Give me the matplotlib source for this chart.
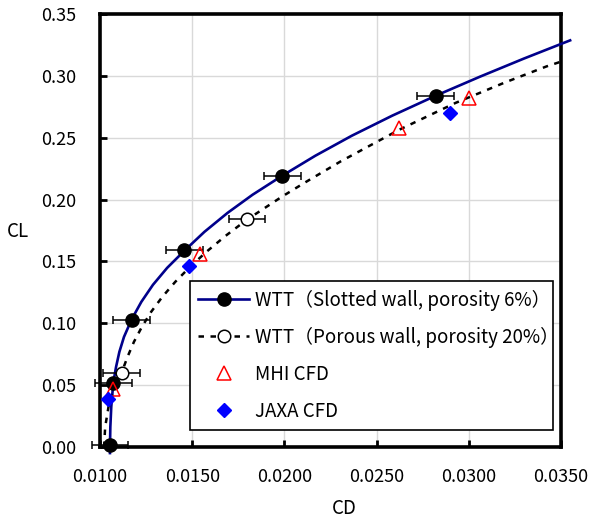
import numpy as np
import matplotlib.pyplot as plt
from matplotlib.lines import Line2D

plt.rcParams['font.family'] = ['Noto Sans CJK JP', 'DejaVu Sans']

# WTT slotted wall (porosity 6%)
cd_slot = [0.01054, 0.01072, 0.01172, 0.01457, 0.01988, 0.02821]
cl_slot = [0.002, 0.052, 0.103, 0.159, 0.219, 0.284]

# WTT porous wall (porosity 20%)
cd_por = [0.01118, 0.01797]
cl_por = [0.060, 0.184]

# CFD results
cd_mhi = [0.01072, 0.0154, 0.02621, 0.03002]
cl_mhi = [0.047, 0.156, 0.258, 0.282]
cd_jaxa = [0.01045, 0.0148, 0.02898]
cl_jaxa = [0.039, 0.146, 0.270]

cd_err = 0.001

# trend lines
cd_slot_fit = [0.01054, 0.01054, 0.01056, 0.01061, 0.01072, 0.01087, 0.01105, 0.01130,
               0.01172, 0.01224, 0.01287, 0.01364, 0.01457, 0.01566, 0.01692, 0.01827,
               0.01988, 0.02167, 0.02365, 0.02584, 0.02821, 0.03061, 0.03297, 0.03549]
cl_slot_fit = [-0.0049, 0.0, 0.0162, 0.0324, 0.052, 0.0647, 0.0769, 0.0890,
               0.1033, 0.1173, 0.1311, 0.1448, 0.1586, 0.1739, 0.1893, 0.2039,
               0.2193, 0.2354, 0.2516, 0.2678, 0.2840, 0.2994, 0.3139, 0.3287]

cd_por_fit = [0.01022, 0.01028, 0.01046, 0.01079, 0.01118, 0.01149, 0.01184, 0.01227,
              0.01277, 0.01338, 0.01408, 0.01488, 0.01577, 0.01681, 0.01796, 0.01988,
              0.02109, 0.02304, 0.02623, 0.02927, 0.03196, 0.03422, 0.03516]
cl_por_fit = [0.0, 0.0162, 0.0324, 0.0485, 0.0604, 0.0728, 0.0850, 0.0971,
              0.1092, 0.1214, 0.1335, 0.1456, 0.1578, 0.1707, 0.1837, 0.2025,
              0.2136, 0.2308, 0.2565, 0.2781, 0.2947, 0.3077, 0.3123]

x_ticks = [0.010, 0.015, 0.020, 0.025, 0.030, 0.035]
y_ticks = [0.00, 0.05, 0.10, 0.15, 0.20, 0.25, 0.30, 0.35]

fig = plt.figure(figsize=(5.9, 5.19), dpi=100)
ax = fig.add_axes([0.1695, 0.1387, 0.7815, 0.8343])

navy = '#00008B'
fs = 13
dash = (0, (2.2, 2.6))

ax.plot(cd_slot_fit, cl_slot_fit, color=navy, lw=1.9, clip_on=False, zorder=3)
ax.plot(cd_por_fit, cl_por_fit, color='black', lw=1.8, ls=dash,
        clip_on=False, zorder=3)

ax.errorbar(cd_slot, cl_slot, xerr=cd_err, fmt='o', color='black', ms=9.5,
            ecolor='black', elinewidth=1.1, capsize=3, capthick=1.1,
            clip_on=False, zorder=5)
ax.errorbar(cd_por, cl_por, xerr=cd_err, fmt='o', mfc='white', mec='black', mew=1.1,
            ms=9, ecolor='black', elinewidth=1.1, capsize=3, capthick=1.1, zorder=4)
ax.plot(cd_mhi, cl_mhi, '^', mfc='none', mec='red', mew=1.1, ms=10, zorder=6)
ax.plot(cd_jaxa, cl_jaxa, 'D', color='blue', ms=7.5, zorder=6)

ax.set_xlim(0.010, 0.035)
ax.set_ylim(0.0, 0.35)
ax.set_xticks(x_ticks)
ax.set_yticks(y_ticks)
ax.set_xticklabels(['%.4f' % v for v in x_ticks], fontsize=fs)
ax.set_yticklabels(['%.2f' % v for v in y_ticks], fontsize=fs)
ax.tick_params(direction='in', length=5, width=2)
ax.tick_params(axis='x', pad=15)
ax.tick_params(axis='y', pad=17)
ax.grid(True, color='#d9d9d9', lw=1.0)
ax.set_axisbelow(True)
for s in ax.spines.values():
    s.set_linewidth(2.6)

ax.set_xlabel('CD', fontsize=13.5)
ax.xaxis.set_label_coords(0.53, -0.118)
ax.set_ylabel('CL', fontsize=13.5, rotation=0, va='center')
ax.yaxis.set_label_coords(-0.178, 0.497)

handles = [
    Line2D([], [], color=navy, lw=1.9, marker='o', mfc='black', mec='black', ms=9.5),
    Line2D([], [], color='black', lw=1.8, ls=dash, marker='o', mfc='white',
           mec='black', mew=1.1, ms=9),
    Line2D([], [], ls='none', marker='^', mfc='none', mec='red', mew=1.1, ms=10),
    Line2D([], [], ls='none', marker='D', color='blue', ms=7.5),
]
labels = ['WTT（Slotted wall, porosity 6%）', 'WTT（Porous wall, porosity 20%）',
          'MHI CFD', 'JAXA CFD']
leg = ax.legend(handles, labels, loc='lower left',
                bbox_to_anchor=(0.195, 0.039, 0.788, 0.3), mode='expand',
                borderaxespad=0, fontsize=13.5, fancybox=False, framealpha=1,
                edgecolor='black', handlelength=2.7, handletextpad=0.3,
                labelspacing=0.85, borderpad=0.45)
leg.get_frame().set_linewidth(1.2)
leg.set_zorder(10)

fig.savefig('out.png', dpi=100)
